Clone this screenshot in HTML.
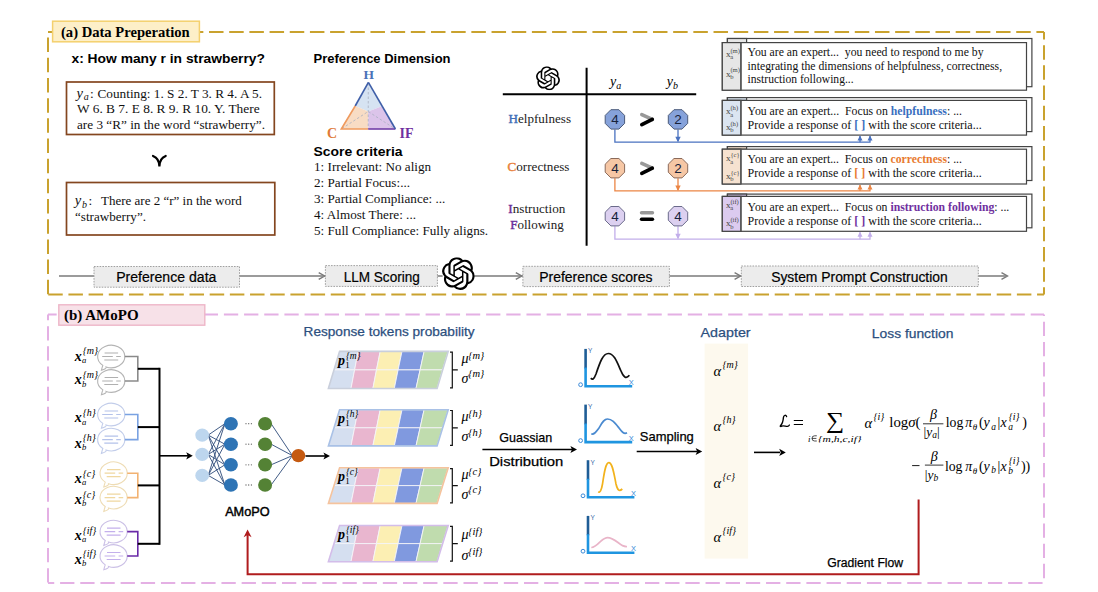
<!DOCTYPE html>
<html><head><meta charset="utf-8">
<style>
html,body{margin:0;padding:0;background:#fff;width:1098px;height:592px;overflow:hidden}
svg{display:block}
.s{font-family:"Liberation Sans",sans-serif}
.t{font-family:"Liberation Serif",serif;white-space:pre}
.m{font-family:"Liberation Serif",serif;font-style:italic}
</style></head><body>
<svg width="1098" height="592" viewBox="0 0 1098 592">
<defs>
<marker id="ag" viewBox="0 0 10 10" refX="9" refY="5" markerWidth="7" markerHeight="7" orient="auto"><path d="M0,1 L9,5 L0,9" fill="none" stroke="#777" stroke-width="1.2"/></marker>
<marker id="ak" viewBox="0 0 10 10" refX="9" refY="5" markerWidth="5" markerHeight="5" orient="auto"><path d="M0,0 L10,5 L0,10 z" fill="#000"/></marker>
<symbol id="oai" viewBox="0 0 24 24"><path d="M22.2819 9.8211a5.9847 5.9847 0 0 0-.5157-4.9108 6.0462 6.0462 0 0 0-6.5098-2.9A6.0651 6.0651 0 0 0 4.9807 4.1818a5.9847 5.9847 0 0 0-3.9977 2.9 6.0462 6.0462 0 0 0 .7427 7.0966 5.98 5.98 0 0 0 .511 4.9107 6.051 6.051 0 0 0 6.5146 2.9001A5.9847 5.9847 0 0 0 13.2599 24a6.0557 6.0557 0 0 0 5.7718-4.2058 5.9894 5.9894 0 0 0 3.9977-2.9001 6.0557 6.0557 0 0 0-.7475-7.0729zm-9.022 12.6081a4.4755 4.4755 0 0 1-2.8764-1.0408l.1419-.0804 4.7783-2.7582a.7948.7948 0 0 0 .3927-.6813v-6.7369l2.02 1.1686a.071.071 0 0 1 .038.052v5.5826a4.504 4.504 0 0 1-4.4945 4.4944zm-9.6607-4.1254a4.4708 4.4708 0 0 1-.5346-3.0137l.142.0852 4.783 2.7582a.7712.7712 0 0 0 .7806 0l5.8428-3.3685v2.3324a.0804.0804 0 0 1-.0332.0615L9.74 19.9502a4.4992 4.4992 0 0 1-6.1408-1.6464zM2.3408 7.8956a4.485 4.485 0 0 1 2.3655-1.9728V11.6a.7664.7664 0 0 0 .3879.6765l5.8144 3.3543-2.0201 1.1685a.0757.0757 0 0 1-.071 0l-4.8303-2.7865A4.504 4.504 0 0 1 2.3408 7.872zm16.5963 3.8558L13.1038 8.364 15.1192 7.2a.0757.0757 0 0 1 .071 0l4.8303 2.7913a4.4944 4.4944 0 0 1-.6765 8.1042v-5.6772a.79.79 0 0 0-.407-.667zm2.0107-3.0231l-.142-.0852-4.7735-2.7818a.7759.7759 0 0 0-.7854 0L9.409 9.2297V6.8974a.0662.0662 0 0 1 .0284-.0615l4.8303-2.7866a4.4992 4.4992 0 0 1 6.6802 4.66zM8.3065 12.863l-2.02-1.1638a.0804.0804 0 0 1-.038-.0567V6.0742a4.4992 4.4992 0 0 1 7.3757-3.4537l-.142.0805L8.704 5.459a.7948.7948 0 0 0-.3927.6813zm1.0976-2.3654l2.602-1.4998 2.6069 1.4998v2.9994l-2.5974 1.4997-2.6067-1.4997Z"/></symbol>
</defs>

<!-- ===== (a) frame ===== -->
<g fill="none" stroke="#c9a22e" stroke-width="2" stroke-dasharray="14.5 5.68">
<path d="M48,32 H1044" stroke-dashoffset="0.42"/>
<path d="M1044,32 V294.6" stroke-dashoffset="7"/>
<path d="M48,294.6 H1044" stroke-dashoffset="19.94"/>
<path d="M48,32 V294.6" stroke-dashoffset="14.59"/>
</g>
<rect x="52.6" y="21.2" width="146.8" height="20.6" fill="#fdefc8" stroke="#f4d06e" stroke-width="1.5"/>
<text x="61" y="37" class="t" font-weight="bold" font-size="14.6">(a) Data Preperation</text>


<!-- left column -->
<text x="71.5" y="63" class="s" font-weight="bold" font-size="13.5" textLength="193.5" lengthAdjust="spacingAndGlyphs">x: How many r in strawberry?</text>
<rect x="66.5" y="82" width="207.8" height="52.5" fill="#fff" stroke="#84461f" stroke-width="1.7"/>
<text class="m" font-size="14.5" x="76.6" y="97.5" fill="#111">y</text><text class="m" font-size="10" x="83.8" y="100.3" fill="#111">a</text><text class="t" font-size="13.4" x="90" y="97.5" fill="#111">:</text>
<text class="t" font-size="13.4" fill="#111" x="97.5" y="97.5" textLength="164.5" lengthAdjust="spacingAndGlyphs">Counting: 1. S 2. T 3. R 4. A 5.</text>
<text class="t" font-size="13.4" fill="#111" x="77" y="113" textLength="182.6" lengthAdjust="spacingAndGlyphs">W 6. B 7. E 8. R 9. R 10. Y. There</text>
<text class="t" font-size="13.4" fill="#111" x="77" y="128.5" textLength="188" lengthAdjust="spacingAndGlyphs">are 3 “R” in the word “strawberry”.</text>
<path d="M153,156 Q159.4,158.5 159.4,166.5 Q159.4,158.5 165.7,156" fill="none" stroke="#000" stroke-width="2.2" stroke-linecap="round" stroke-linejoin="miter"/>
<rect x="66.5" y="182.5" width="208.3" height="52.5" fill="#fff" stroke="#84461f" stroke-width="1.7"/>
<text class="m" font-size="14.5" x="74.8" y="205" fill="#111">y</text><text class="m" font-size="10" x="82" y="207.8" fill="#111">b</text><text class="t" font-size="13.4" x="88.5" y="205" fill="#111">:</text>
<text class="t" font-size="13.4" fill="#111" x="101" y="205" textLength="140.8" lengthAdjust="spacingAndGlyphs">There are 2 “r” in the word</text>
<text class="t" font-size="13.4" fill="#111" x="75" y="221" textLength="71" lengthAdjust="spacingAndGlyphs">“strawberry”.</text>


<!-- middle column -->
<text x="313.5" y="63" class="s" font-weight="bold" font-size="13" textLength="137" lengthAdjust="spacingAndGlyphs">Preference Dimension</text>
<g>
<polygon points="368.4,82.3 355.2,106 368.2,111.5 381.8,106.3" fill="#d6e3f2"/>
<polygon points="355.2,106 341.3,129 368.2,129 368.2,111.5" fill="#f8dcc4"/>
<polygon points="381.8,106.3 395.4,129 368.2,129 368.2,111.5" fill="#dcc4ea"/>
<path d="M368.3,83 L368.2,129 M342,128.5 L368.2,111.5 L394.5,128.5" fill="none" stroke="#aab0c0" stroke-width="0.8" stroke-dasharray="2.5 2"/>
<path d="M368.4,82.3 L355.2,106" stroke="#3f5fa8" stroke-width="1.6" fill="none"/>
<path d="M355.2,106 L341.3,129 L368.2,129" stroke="#ef9a5e" stroke-width="1.6" fill="none"/>
<path d="M368.2,129 L395.4,129" stroke="#7440a8" stroke-width="1.6" fill="none"/>
<path d="M368.4,82.3 L395.4,129" stroke="#3f5fa8" stroke-width="1.6" fill="none"/>
</g>
<text x="368.8" y="79.4" class="t" font-weight="bold" font-size="13.5" fill="#4a72b8" text-anchor="middle">H</text>
<text x="327" y="137.6" class="t" font-weight="bold" font-size="14" fill="#e07b39">C</text>
<text x="399.5" y="137.6" class="t" font-weight="bold" font-size="14" fill="#7030a0">IF</text>
<text x="313.5" y="155.5" class="s" font-weight="bold" font-size="13" textLength="89" lengthAdjust="spacingAndGlyphs">Score criteria</text>
<text class="t" font-size="13.15" fill="#111">
<tspan x="314" y="171.3">1: Irrelevant: No align</tspan>
<tspan x="314" y="187.3">2: Partial Focus:...</tspan>
<tspan x="314" y="203.2">3: Partial Compliance: ...</tspan>
<tspan x="314" y="219.2">4: Almost There: ...</tspan>
<tspan x="314" y="235.2">5: Full Compliance: Fully aligns.</tspan>
</text>


<!-- table -->
<path d="M502.8,94.3 H696.2 M586.6,67.7 V245.8" stroke="#000" stroke-width="2" fill="none"/>
<text x="615.6" y="86" class="m" font-size="14" text-anchor="middle">y<tspan font-size="10" dy="3">a</tspan></text>
<text x="672.4" y="86" class="m" font-size="14" text-anchor="middle">y<tspan font-size="10" dy="3">b</tspan></text>
<text x="508.5" y="122.9" class="t" font-size="13.4" fill="#222" textLength="62.5" lengthAdjust="spacingAndGlyphs"><tspan fill="#3f6fb8" stroke="#3f6fb8" stroke-width="0.45">H</tspan>elpfulness</text>
<text x="507.5" y="170.8" class="t" font-size="13.4" fill="#222" textLength="62" lengthAdjust="spacingAndGlyphs"><tspan fill="#e8803a" stroke="#e8803a" stroke-width="0.45">C</tspan>orrectness</text>
<text x="508.3" y="212.6" class="t" font-size="13.4" fill="#222" textLength="57" lengthAdjust="spacingAndGlyphs"><tspan fill="#6a2e9a" stroke="#6a2e9a" stroke-width="0.45">I</tspan>nstruction</text>
<text x="510.2" y="228.6" class="t" font-size="13.4" fill="#222" textLength="53.5" lengthAdjust="spacingAndGlyphs"><tspan fill="#6a2e9a" stroke="#6a2e9a" stroke-width="0.45">F</tspan>ollowing</text>

<!-- octagons -->
<path d="M614.9,129.4 V142.2 H722" stroke="#4a72c0" stroke-width="1.3" fill="none"/>
<path d="M678,129.4 V141.2" stroke="#4a72c0" stroke-width="1.3" fill="none"/>
<path d="M675.3,136.7 L678,142.2 L680.7,136.7 z" fill="#4a72c0"/>
<polygon points="624.6,123.4 618.9,129.1 610.9,129.1 605.2,123.4 605.2,115.4 610.9,109.7 618.9,109.7 624.6,115.4" fill="#86a2da" stroke="#4a5a7a" stroke-width="1"/>
<text x="614.9" y="124.1" class="s" font-size="13.5" fill="#17223a" text-anchor="middle">4</text>
<polygon points="687.7,123.4 682.0,129.1 674.0,129.1 668.3,123.4 668.3,115.4 674.0,109.7 682.0,109.7 687.7,115.4" fill="#86a2da" stroke="#4a5a7a" stroke-width="1"/>
<text x="678" y="124.1" class="s" font-size="13.5" fill="#17223a" text-anchor="middle">2</text>
<path d="M641.8,114.6 L652.3,119.4" stroke="#999" stroke-width="3.6" stroke-linecap="round"/>
<path d="M652.3,119.4 L641.8,124.6" stroke="#000" stroke-width="3.6" stroke-linecap="round"/>
<path d="M614.9,178.2 V190.9 H722" stroke="#eb8544" stroke-width="1.3" fill="none"/>
<path d="M678,178.2 V189.9" stroke="#eb8544" stroke-width="1.3" fill="none"/>
<path d="M675.3,185.4 L678,190.9 L680.7,185.4 z" fill="#eb8544"/>
<polygon points="624.6,172.2 618.9,177.9 610.9,177.9 605.2,172.2 605.2,164.2 610.9,158.5 618.9,158.5 624.6,164.2" fill="#f6c7a5" stroke="#8a6a5a" stroke-width="1"/>
<text x="614.9" y="172.9" class="s" font-size="13.5" fill="#17223a" text-anchor="middle">4</text>
<polygon points="687.7,172.2 682.0,177.9 674.0,177.9 668.3,172.2 668.3,164.2 674.0,158.5 682.0,158.5 687.7,164.2" fill="#f6c7a5" stroke="#8a6a5a" stroke-width="1"/>
<text x="678" y="172.9" class="s" font-size="13.5" fill="#17223a" text-anchor="middle">2</text>
<path d="M641.8,163.4 L652.3,168.2" stroke="#999" stroke-width="3.6" stroke-linecap="round"/>
<path d="M652.3,168.2 L641.8,173.4" stroke="#000" stroke-width="3.6" stroke-linecap="round"/>
<path d="M614.9,226.2 V239.2 H722" stroke="#c2aeea" stroke-width="1.3" fill="none"/>
<path d="M678,226.2 V238.2" stroke="#c2aeea" stroke-width="1.3" fill="none"/>
<path d="M675.3,233.7 L678,239.2 L680.7,233.7 z" fill="#c2aeea"/>
<polygon points="624.6,220.2 618.9,225.9 610.9,225.9 605.2,220.2 605.2,212.2 610.9,206.5 618.9,206.5 624.6,212.2" fill="#dcd0f0" stroke="#6a6a8a" stroke-width="1"/>
<text x="614.9" y="220.9" class="s" font-size="13.5" fill="#17223a" text-anchor="middle">4</text>
<polygon points="687.7,220.2 682.0,225.9 674.0,225.9 668.3,220.2 668.3,212.2 674.0,206.5 682.0,206.5 687.7,212.2" fill="#dcd0f0" stroke="#6a6a8a" stroke-width="1"/>
<text x="678" y="220.9" class="s" font-size="13.5" fill="#17223a" text-anchor="middle">4</text>
<path d="M641.5,212.8 H652.5" stroke="#999" stroke-width="3.4" stroke-linecap="round"/>
<path d="M641.5,219.3 H652.5" stroke="#000" stroke-width="3.4" stroke-linecap="round"/>


<use href="#oai" x="536" y="66.3" width="24" height="24"/>
<!-- prompt boxes -->
<rect x="727.4" y="38.5" width="304.5" height="48.2" fill="#fff" stroke="#444" stroke-width="1.2"/>
<rect x="727.4" y="38.5" width="19.2" height="4.1" fill="#e6e6e6" stroke="#444" stroke-width="1.2"/>
<rect x="722.3" y="42.6" width="304.2" height="47.6" fill="#fff" stroke="#444" stroke-width="1.2"/>
<rect x="722.3" y="42.6" width="18.6" height="47.6" fill="#e6e6e6" stroke="#444" stroke-width="1.2"/>
<path d="M740.9,42.6 V90.2" stroke="#555" stroke-width="1.4"/>
<text class="t" font-size="12.3" fill="#111" x="747.6" y="55.8" textLength="236" lengthAdjust="spacingAndGlyphs">You are an expert...  you need to respond to me by</text>
<text class="t" font-size="12.3" fill="#111" x="747.6" y="69.7" textLength="254.5" lengthAdjust="spacingAndGlyphs">integrating the dimensions of helpfulness, correctness,</text>
<text class="t" font-size="12.3" fill="#111" x="747.6" y="83.1" textLength="106" lengthAdjust="spacingAndGlyphs">instruction following...</text><text class="t" font-size="9.2" fill="#444" x="726" y="56.8">x</text><text class="t" font-size="6.6" fill="#444" x="730.2" y="59.0">a</text><text class="t" font-size="6.6" fill="#444" x="730.4" y="52.6">(m)</text><text class="t" font-size="9.2" fill="#444" x="726" y="76.5">x</text><text class="t" font-size="6.6" fill="#444" x="730.2" y="78.7">b</text><text class="t" font-size="6.6" fill="#444" x="730.4" y="72.3">(m)</text>
<rect x="727.4" y="97.6" width="304.5" height="34.0" fill="#fff" stroke="#444" stroke-width="1.2"/>
<rect x="727.4" y="97.6" width="19.2" height="2.8" fill="#dbe5f1" stroke="#444" stroke-width="1.2"/>
<rect x="722.3" y="100.4" width="304.2" height="34.7" fill="#fff" stroke="#444" stroke-width="1.2"/>
<rect x="722.3" y="100.4" width="18.6" height="34.7" fill="#dbe5f1" stroke="#444" stroke-width="1.2"/>
<path d="M740.9,100.4 V135.1" stroke="#555" stroke-width="1.4"/>
<text class="t" font-size="12.3" fill="#111" x="747.6" y="114.6" textLength="214.4" lengthAdjust="spacingAndGlyphs">You are an expert...  Focus on <tspan fill="#3a6fc0" font-weight="bold">helpfulness</tspan>: ...</text><text class="t" font-size="12.3" fill="#111" x="747.6" y="128.5" textLength="234.1" lengthAdjust="spacingAndGlyphs">Provide a response of <tspan fill="#3a6fc0" font-weight="bold">[ ]</tspan> with the score criteria...</text><text class="t" font-size="9.2" fill="#444" x="726" y="114.3">x</text><text class="t" font-size="6.6" fill="#444" x="730.2" y="116.5">a</text><text class="t" font-size="6.6" fill="#444" x="730.4" y="110.1">(h)</text><text class="t" font-size="9.2" fill="#444" x="726" y="130.0">x</text><text class="t" font-size="6.6" fill="#444" x="730.2" y="132.2">b</text><text class="t" font-size="6.6" fill="#444" x="730.4" y="125.8">(h)</text>
<rect x="727.4" y="146.6" width="304.5" height="33.9" fill="#fff" stroke="#444" stroke-width="1.2"/>
<rect x="727.4" y="146.6" width="19.2" height="2.6" fill="#f6e2d0" stroke="#444" stroke-width="1.2"/>
<rect x="722.3" y="149.2" width="304.2" height="34.8" fill="#fff" stroke="#444" stroke-width="1.2"/>
<rect x="722.3" y="149.2" width="18.6" height="34.8" fill="#f6e2d0" stroke="#444" stroke-width="1.2"/>
<path d="M740.9,149.2 V184" stroke="#555" stroke-width="1.4"/>
<text class="t" font-size="12.3" fill="#111" x="747.6" y="163.3" textLength="214.4" lengthAdjust="spacingAndGlyphs">You are an expert...  Focus on <tspan fill="#e87a30" font-weight="bold">correctness</tspan>: ...</text><text class="t" font-size="12.3" fill="#111" x="747.6" y="177" textLength="234.1" lengthAdjust="spacingAndGlyphs">Provide a response of <tspan fill="#e87a30" font-weight="bold">[ ]</tspan> with the score criteria...</text><text class="t" font-size="9.2" fill="#444" x="726" y="161.4">x</text><text class="t" font-size="6.6" fill="#444" x="730.2" y="163.6">a</text><text class="t" font-size="6.6" fill="#444" x="730.4" y="157.2">{c}</text><text class="t" font-size="9.2" fill="#444" x="726" y="178.7">x</text><text class="t" font-size="6.6" fill="#444" x="730.2" y="180.9">b</text><text class="t" font-size="6.6" fill="#444" x="730.4" y="174.5">{c}</text>
<rect x="727.4" y="194.1" width="304.5" height="33.7" fill="#fff" stroke="#444" stroke-width="1.2"/>
<rect x="727.4" y="194.1" width="19.2" height="2.3" fill="#dccbef" stroke="#444" stroke-width="1.2"/>
<rect x="722.3" y="196.4" width="304.2" height="34.9" fill="#fff" stroke="#444" stroke-width="1.2"/>
<rect x="722.3" y="196.4" width="18.6" height="34.9" fill="#dccbef" stroke="#444" stroke-width="1.2"/>
<path d="M740.9,196.4 V231.3" stroke="#555" stroke-width="1.4"/>
<text class="t" font-size="12.3" fill="#111" x="747.6" y="211" textLength="261.7" lengthAdjust="spacingAndGlyphs">You are an expert...  Focus on <tspan fill="#7030a0" font-weight="bold">instruction following</tspan>: ...</text><text class="t" font-size="12.3" fill="#111" x="747.6" y="225" textLength="234.1" lengthAdjust="spacingAndGlyphs">Provide a response of <tspan fill="#7030a0" font-weight="bold">[ ]</tspan> with the score criteria...</text><text class="t" font-size="9.2" fill="#444" x="726" y="207.9">x</text><text class="t" font-size="6.6" fill="#444" x="730.2" y="210.1">a</text><text class="t" font-size="6.6" fill="#444" x="730.4" y="203.7">(if)</text><text class="t" font-size="9.2" fill="#444" x="726" y="226.3">x</text><text class="t" font-size="6.6" fill="#444" x="730.2" y="228.5">b</text><text class="t" font-size="6.6" fill="#444" x="730.4" y="222.1">(if)</text>
<path d="M722,142.2 H870 V136.1" stroke="#4a72c0" stroke-width="1.3" fill="none"/>
<path d="M860,142.2 V136.1" stroke="#4a72c0" stroke-width="1.3" fill="none"/>
<path d="M857.5,140.6 L860,135.6 L862.5,140.6 z M867.5,140.6 L870,135.6 L872.5,140.6 z" fill="#4a72c0"/>
<path d="M722,190.9 H870 V185" stroke="#eb8544" stroke-width="1.3" fill="none"/>
<path d="M860,190.9 V185" stroke="#eb8544" stroke-width="1.3" fill="none"/>
<path d="M857.5,189.5 L860,184.5 L862.5,189.5 z M867.5,189.5 L870,184.5 L872.5,189.5 z" fill="#eb8544"/>
<path d="M722,239.2 H870 V232.3" stroke="#c2aeea" stroke-width="1.3" fill="none"/>
<path d="M860,239.2 V232.3" stroke="#c2aeea" stroke-width="1.3" fill="none"/>
<path d="M857.5,236.8 L860,231.8 L862.5,236.8 z M867.5,236.8 L870,231.8 L872.5,236.8 z" fill="#c2aeea"/>


<!-- flow line -->
<path d="M59,276 H1007" stroke="#7a7a7a" stroke-width="1.4" fill="none"/>
<path d="M318.7,272.6 L324.7,276 L318.7,279.4 M515.8,272.6 L521.8,276 L515.8,279.4 M734.6,272.6 L740.6,276 L734.6,279.4 M1001.5,272.6 L1007.5,276 L1001.5,279.4" stroke="#7a7a7a" stroke-width="1.4" fill="none"/>
<rect x="94" y="266.5" width="145.5" height="20.7" fill="#ececec" stroke="#a0a0a0" stroke-width="1" stroke-dasharray="1.6 1.2"/>
<rect x="325.4" y="265.6" width="112" height="20.8" fill="#ececec" stroke="#a0a0a0" stroke-width="1" stroke-dasharray="1.6 1.2"/>
<rect x="522.9" y="266.3" width="146.5" height="20.3" fill="#ececec" stroke="#a0a0a0" stroke-width="1" stroke-dasharray="1.6 1.2"/>
<rect x="741.3" y="266" width="237" height="20.5" fill="#ececec" stroke="#a0a0a0" stroke-width="1" stroke-dasharray="1.6 1.2"/>
<circle cx="458.4" cy="273.6" r="16" fill="#fff"/>
<use href="#oai" x="442" y="257.2" width="32.8" height="32.8"/>
<text x="116.2" y="282" class="s" font-size="14" stroke="#000" stroke-width="0.2" textLength="100.2" lengthAdjust="spacingAndGlyphs">Preference data</text>
<text x="343.7" y="282" class="s" font-size="14" stroke="#000" stroke-width="0.2" textLength="76.1" lengthAdjust="spacingAndGlyphs">LLM Scoring</text>
<text x="539.2" y="282" class="s" font-size="14" stroke="#000" stroke-width="0.2" textLength="113.3" lengthAdjust="spacingAndGlyphs">Preference scores</text>
<text x="771.2" y="282" class="s" font-size="14" stroke="#000" stroke-width="0.2" textLength="176.5" lengthAdjust="spacingAndGlyphs">System Prompt Construction</text>

<!-- ===== (b) frame ===== -->
<g fill="none" stroke="#e4b0e4" stroke-width="2" stroke-dasharray="14.3 5.87">
<path d="M48,314.6 H1044" stroke-dashoffset="5.63"/>
<path d="M1044,314.6 V582.9" stroke-dashoffset="12.97"/>
<path d="M48,582.9 H1044" stroke-dashoffset="8.07"/>
<path d="M48,314.6 V582.9" stroke-dashoffset="8.64"/>
</g>
<rect x="58.8" y="304.8" width="146" height="20.4" fill="#f7e1e8" stroke="#eeb6c8" stroke-width="1.4"/>
<text x="64" y="320" class="t" font-weight="bold" font-size="15">(b) AMoPO</text>

<!-- B-START -->
<path d="M106.11,366.98 A13.6,11.3 0 1 0 102.83,365.40 Q102.20,367.00 101.40,370.30 Q106.70,369.00 106.11,366.98 Z" fill="#fff" stroke="#b4b4b4" stroke-width="1.1"/>
<path d="M104.6,353.0 H118.1 M102.2,356.5 H112.8 M116.2,356.5 H120.8 M104.3,360.0 H118.2" stroke="#b0b0b0" stroke-width="1.2" fill="none"/>
<path d="M106.11,391.48 A13.6,11.3 0 1 0 102.83,389.90 Q102.20,391.50 101.40,394.80 Q106.70,393.50 106.11,391.48 Z" fill="#fff" stroke="#b4b4b4" stroke-width="1.1"/>
<path d="M104.6,377.5 H118.1 M102.2,381.0 H112.8 M116.2,381.0 H120.8 M104.3,384.5 H118.2" stroke="#b0b0b0" stroke-width="1.2" fill="none"/>
<path d="M124.8,356.5 H137.8 V381.0 H124.8" stroke="#8a8a8a" stroke-width="1.6" fill="none"/>
<path d="M137.8,368.8 H159.5" stroke="#000" stroke-width="2" fill="none"/>
<text class="m" font-size="14" font-weight="bold" x="74.8" y="360.7">x</text>
<text class="m" font-size="8.6" x="82" y="362.9">a</text>
<text class="m" font-size="10" x="82.8" y="354.4">{m}</text>
<text class="m" font-size="14" font-weight="bold" x="74.8" y="384.4">x</text>
<text class="m" font-size="8.6" x="82" y="386.6">b</text>
<text class="m" font-size="10" x="82.8" y="378.1">{m}</text>
<path d="M106.11,424.98 A13.6,11.3 0 1 0 102.83,423.40 Q102.20,425.00 101.40,428.30 Q106.70,427.00 106.11,424.98 Z" fill="#fff" stroke="#c2cdea" stroke-width="1.1"/>
<path d="M104.6,411.0 H118.1 M102.2,414.5 H112.8 M116.2,414.5 H120.8 M104.3,418.0 H118.2" stroke="#b4c2ea" stroke-width="1.2" fill="none"/>
<path d="M106.11,450.08 A13.6,11.3 0 1 0 102.83,448.50 Q102.20,450.10 101.40,453.40 Q106.70,452.10 106.11,450.08 Z" fill="#fff" stroke="#c2cdea" stroke-width="1.1"/>
<path d="M104.6,436.1 H118.1 M102.2,439.6 H112.8 M116.2,439.6 H120.8 M104.3,443.1 H118.2" stroke="#b4c2ea" stroke-width="1.2" fill="none"/>
<path d="M124.8,414.5 H137.8 V439.6 H124.8" stroke="#7aa2e2" stroke-width="1.6" fill="none"/>
<path d="M137.8,427.1 H159.5" stroke="#000" stroke-width="2" fill="none"/>
<text class="m" font-size="14" font-weight="bold" x="74.8" y="422.3">x</text>
<text class="m" font-size="8.6" x="82" y="424.5">a</text>
<text class="m" font-size="10" x="82.8" y="416.0">{h}</text>
<text class="m" font-size="14" font-weight="bold" x="74.8" y="447.6">x</text>
<text class="m" font-size="8.6" x="82" y="449.8">b</text>
<text class="m" font-size="10" x="82.8" y="441.3">{h}</text>
<path d="M108.51,483.68 A13.6,11.3 0 1 0 105.23,482.10 Q104.60,483.70 103.80,487.00 Q109.10,485.70 108.51,483.68 Z" fill="#fff" stroke="#eedcb4" stroke-width="1.1"/>
<path d="M107.0,469.7 H120.5 M104.6,473.2 H115.2 M118.6,473.2 H123.2 M106.7,476.7 H120.6" stroke="#f0d8a0" stroke-width="1.2" fill="none"/>
<path d="M108.51,508.08 A13.6,11.3 0 1 0 105.23,506.50 Q104.60,508.10 103.80,511.40 Q109.10,510.10 108.51,508.08 Z" fill="#fff" stroke="#eedcb4" stroke-width="1.1"/>
<path d="M107.0,494.1 H120.5 M104.6,497.6 H115.2 M118.6,497.6 H123.2 M106.7,501.1 H120.6" stroke="#f0d8a0" stroke-width="1.2" fill="none"/>
<path d="M127.2,473.2 H137.8 V497.6 H127.2" stroke="#f2b272" stroke-width="1.6" fill="none"/>
<path d="M137.8,485.4 H159.5" stroke="#000" stroke-width="2" fill="none"/>
<text class="m" font-size="14" font-weight="bold" x="74.8" y="483.2">x</text>
<text class="m" font-size="8.6" x="82" y="485.4">a</text>
<text class="m" font-size="10" x="82.8" y="476.9">{c}</text>
<text class="m" font-size="14" font-weight="bold" x="74.8" y="504.0">x</text>
<text class="m" font-size="8.6" x="82" y="506.2">b</text>
<text class="m" font-size="10" x="82.8" y="497.7">{c}</text>
<path d="M108.51,542.08 A13.6,11.3 0 1 0 105.23,540.50 Q104.60,542.10 103.80,545.40 Q109.10,544.10 108.51,542.08 Z" fill="#fff" stroke="#cbc0e6" stroke-width="1.1"/>
<path d="M107.0,528.1 H120.5 M104.6,531.6 H115.2 M118.6,531.6 H123.2 M106.7,535.1 H120.6" stroke="#c4b0ec" stroke-width="1.2" fill="none"/>
<path d="M108.51,566.48 A13.6,11.3 0 1 0 105.23,564.90 Q104.60,566.50 103.80,569.80 Q109.10,568.50 108.51,566.48 Z" fill="#fff" stroke="#cbc0e6" stroke-width="1.1"/>
<path d="M107.0,552.5 H120.5 M104.6,556.0 H115.2 M118.6,556.0 H123.2 M106.7,559.5 H120.6" stroke="#c4b0ec" stroke-width="1.2" fill="none"/>
<path d="M127.2,531.6 H137.8 V556.0 H127.2" stroke="#6a2aa8" stroke-width="1.6" fill="none"/>
<path d="M137.8,543.8 H159.5" stroke="#000" stroke-width="2" fill="none"/>
<text class="m" font-size="14" font-weight="bold" x="74.8" y="540.1">x</text>
<text class="m" font-size="8.6" x="82" y="542.3">a</text>
<text class="m" font-size="10" x="82.8" y="533.8">{if}</text>
<text class="m" font-size="14" font-weight="bold" x="74.8" y="563.5">x</text>
<text class="m" font-size="8.6" x="82" y="565.7">b</text>
<text class="m" font-size="10" x="82.8" y="557.2">{if}</text>
<path d="M159.5,367.8 V544.8" stroke="#000" stroke-width="2" fill="none"/>
<path d="M159.5,455.8 H188" stroke="#000" stroke-width="1.6" fill="none"/><path d="M186.2,452.2 L192.8,455.8 L186.2,459.4 L187.8,455.8 z" fill="#000"/>
<path d="M208.2,435.1 L224.9,423.7" stroke="#2d4a78" stroke-width="0.9"/>
<path d="M208.2,435.1 L224.9,444.2" stroke="#2d4a78" stroke-width="0.9"/>
<path d="M208.2,435.1 L224.9,464.8" stroke="#2d4a78" stroke-width="0.9"/>
<path d="M208.2,435.1 L224.9,485.0" stroke="#2d4a78" stroke-width="0.9"/>
<path d="M208.2,454.4 L224.9,423.7" stroke="#2d4a78" stroke-width="0.9"/>
<path d="M208.2,454.4 L224.9,444.2" stroke="#2d4a78" stroke-width="0.9"/>
<path d="M208.2,454.4 L224.9,464.8" stroke="#2d4a78" stroke-width="0.9"/>
<path d="M208.2,454.4 L224.9,485.0" stroke="#2d4a78" stroke-width="0.9"/>
<path d="M208.2,475.4 L224.9,423.7" stroke="#2d4a78" stroke-width="0.9"/>
<path d="M208.2,475.4 L224.9,444.2" stroke="#2d4a78" stroke-width="0.9"/>
<path d="M208.2,475.4 L224.9,464.8" stroke="#2d4a78" stroke-width="0.9"/>
<path d="M208.2,475.4 L224.9,485.0" stroke="#2d4a78" stroke-width="0.9"/>
<path d="M271.1,423.7 L292.4,455.6" stroke="#2d4a78" stroke-width="0.9"/>
<path d="M271.1,444.2 L292.4,455.6" stroke="#2d4a78" stroke-width="0.9"/>
<path d="M271.1,464.8 L292.4,455.6" stroke="#2d4a78" stroke-width="0.9"/>
<path d="M271.1,485.0 L292.4,455.6" stroke="#2d4a78" stroke-width="0.9"/>
<ellipse cx="202.2" cy="435.1" rx="6.9" ry="6.6" fill="#bdd6ee"/>
<ellipse cx="202.2" cy="454.4" rx="6.9" ry="6.6" fill="#bdd6ee"/>
<ellipse cx="202.2" cy="475.4" rx="6.9" ry="6.6" fill="#bdd6ee"/>
<ellipse cx="230.9" cy="423.7" rx="7" ry="6.8" fill="#2e74b5"/>
<ellipse cx="230.9" cy="444.2" rx="7" ry="6.8" fill="#2e74b5"/>
<ellipse cx="230.9" cy="464.8" rx="7" ry="6.8" fill="#2e74b5"/>
<ellipse cx="230.9" cy="485.0" rx="7" ry="6.8" fill="#2e74b5"/>
<ellipse cx="265.1" cy="423.7" rx="7" ry="6.8" fill="#548235"/>
<ellipse cx="265.1" cy="444.2" rx="7" ry="6.8" fill="#548235"/>
<ellipse cx="265.1" cy="464.8" rx="7" ry="6.8" fill="#548235"/>
<ellipse cx="265.1" cy="485.0" rx="7" ry="6.8" fill="#548235"/>
<ellipse cx="298.4" cy="455.6" rx="6.9" ry="6.6" fill="#c55a11"/>
<circle cx="246" cy="423.7" r="0.65" fill="#666"/><circle cx="248.7" cy="423.7" r="0.65" fill="#666"/><circle cx="251.4" cy="423.7" r="0.65" fill="#666"/>
<circle cx="246" cy="444.2" r="0.65" fill="#666"/><circle cx="248.7" cy="444.2" r="0.65" fill="#666"/><circle cx="251.4" cy="444.2" r="0.65" fill="#666"/>
<circle cx="246" cy="464.8" r="0.65" fill="#666"/><circle cx="248.7" cy="464.8" r="0.65" fill="#666"/><circle cx="251.4" cy="464.8" r="0.65" fill="#666"/>
<circle cx="246" cy="485.0" r="0.65" fill="#666"/><circle cx="248.7" cy="485.0" r="0.65" fill="#666"/><circle cx="251.4" cy="485.0" r="0.65" fill="#666"/>
<path d="M305.5,456 H325" stroke="#000" stroke-width="1.6"/><path d="M323.4,452.4 L330,456 L323.4,459.6 L325,456 z" fill="#000"/>
<text x="247.4" y="515.8" class="s" font-size="13" stroke="#000" stroke-width="0.45" text-anchor="middle" textLength="44.5" lengthAdjust="spacingAndGlyphs">AMoPO</text>
<text x="303.6" y="336" class="s" font-size="13" fill="#2c4f7e" stroke="#2c4f7e" stroke-width="0.25" textLength="171" lengthAdjust="spacingAndGlyphs">Response tokens probability</text>
<polygon points="339.6,351.4 358.2,351.4 354.6,369.9 334.0,369.9" fill="#d5dff0" stroke="#f4f4f8" stroke-width="0.9"/>
<polygon points="358.2,351.4 380.2,351.4 376.5,369.9 354.6,369.9" fill="#e9b6cf" stroke="#f4f4f8" stroke-width="0.9"/>
<polygon points="380.2,351.4 402.0,351.4 398.1,369.9 376.5,369.9" fill="#fcefb3" stroke="#f4f4f8" stroke-width="0.9"/>
<polygon points="402.0,351.4 424.1,351.4 420.1,369.9 398.1,369.9" fill="#8099df" stroke="#f4f4f8" stroke-width="0.9"/>
<polygon points="424.1,351.4 448.2,351.4 442.6,369.9 420.1,369.9" fill="#c0dcae" stroke="#f4f4f8" stroke-width="0.9"/>
<polygon points="334.0,369.9 354.6,369.9 351.0,388.5 328.4,388.5" fill="#d5dff0" stroke="#f4f4f8" stroke-width="0.9"/>
<polygon points="354.6,369.9 376.5,369.9 372.9,388.5 351.0,388.5" fill="#e9b6cf" stroke="#f4f4f8" stroke-width="0.9"/>
<polygon points="376.5,369.9 398.1,369.9 394.3,388.5 372.9,388.5" fill="#fcefb3" stroke="#f4f4f8" stroke-width="0.9"/>
<polygon points="398.1,369.9 420.1,369.9 416.0,388.5 394.3,388.5" fill="#8099df" stroke="#f4f4f8" stroke-width="0.9"/>
<polygon points="420.1,369.9 442.6,369.9 437.1,388.5 416.0,388.5" fill="#c0dcae" stroke="#f4f4f8" stroke-width="0.9"/>
<polygon points="339.6,351.4 448.2,351.4 437.1,388.5 328.4,388.5" fill="none" stroke="#c9cfdc" stroke-width="1.6"/>
<path d="M450,352.2 H452.3 V387.9 H450 M452.3,369.9 H457.8" stroke="#111" stroke-width="1.2" fill="none"/>
<text class="m" font-size="14" x="461.5" y="363.1">μ</text><text class="m" font-size="10.5" x="468.3" y="359.1">{m}</text>
<text class="m" font-size="14" x="461.5" y="382.6">σ</text><text class="m" font-size="10.5" x="468.3" y="377.2">{m}</text>
<text class="m" font-size="14" font-weight="bold" x="338" y="364.9">p</text><text class="t" font-size="9" x="345.2" y="367.7">1</text><text class="m" font-size="9.5" x="346" y="358.9">{m}</text>
<polygon points="339.6,409.7 358.2,409.7 354.6,427.8 334.0,427.8" fill="#d5dff0" stroke="#f4f4f8" stroke-width="0.9"/>
<polygon points="358.2,409.7 380.2,409.7 376.6,427.8 354.6,427.8" fill="#e9b6cf" stroke="#f4f4f8" stroke-width="0.9"/>
<polygon points="380.2,409.7 402.0,409.7 398.2,427.8 376.6,427.8" fill="#fcefb3" stroke="#f4f4f8" stroke-width="0.9"/>
<polygon points="402.0,409.7 424.1,409.7 420.1,427.8 398.2,427.8" fill="#8099df" stroke="#f4f4f8" stroke-width="0.9"/>
<polygon points="424.1,409.7 448.2,409.7 442.7,427.8 420.1,427.8" fill="#c0dcae" stroke="#f4f4f8" stroke-width="0.9"/>
<polygon points="334.0,427.8 354.6,427.8 351.0,445.9 328.4,445.9" fill="#d5dff0" stroke="#f4f4f8" stroke-width="0.9"/>
<polygon points="354.6,427.8 376.6,427.8 372.9,445.9 351.0,445.9" fill="#e9b6cf" stroke="#f4f4f8" stroke-width="0.9"/>
<polygon points="376.6,427.8 398.2,427.8 394.3,445.9 372.9,445.9" fill="#fcefb3" stroke="#f4f4f8" stroke-width="0.9"/>
<polygon points="398.2,427.8 420.1,427.8 416.0,445.9 394.3,445.9" fill="#8099df" stroke="#f4f4f8" stroke-width="0.9"/>
<polygon points="420.1,427.8 442.7,427.8 437.1,445.9 416.0,445.9" fill="#c0dcae" stroke="#f4f4f8" stroke-width="0.9"/>
<polygon points="339.6,409.7 448.2,409.7 437.1,445.9 328.4,445.9" fill="none" stroke="#a9c1e6" stroke-width="1.6"/>
<path d="M450,410.5 H452.3 V445.3 H450 M452.3,427.8 H457.8" stroke="#111" stroke-width="1.2" fill="none"/>
<text class="m" font-size="14" x="461.5" y="421.0">μ</text><text class="m" font-size="10.5" x="468.3" y="417.0">{h}</text>
<text class="m" font-size="14" x="461.5" y="440.9">σ</text><text class="m" font-size="10.5" x="468.3" y="435.5">{h}</text>
<text class="m" font-size="14" font-weight="bold" x="338" y="423.2">p</text><text class="t" font-size="9" x="345.2" y="426.0">1</text><text class="m" font-size="9.5" x="346" y="417.2">{h}</text>
<polygon points="339.6,467.8 358.2,467.8 354.6,485.6 334.0,485.6" fill="#d5dff0" stroke="#f4f4f8" stroke-width="0.9"/>
<polygon points="358.2,467.8 380.2,467.8 376.5,485.6 354.6,485.6" fill="#e9b6cf" stroke="#f4f4f8" stroke-width="0.9"/>
<polygon points="380.2,467.8 402.0,467.8 398.1,485.6 376.5,485.6" fill="#fcefb3" stroke="#f4f4f8" stroke-width="0.9"/>
<polygon points="402.0,467.8 424.1,467.8 420.1,485.6 398.1,485.6" fill="#8099df" stroke="#f4f4f8" stroke-width="0.9"/>
<polygon points="424.1,467.8 448.2,467.8 442.6,485.6 420.1,485.6" fill="#c0dcae" stroke="#f4f4f8" stroke-width="0.9"/>
<polygon points="334.0,485.6 354.6,485.6 351.0,503.4 328.4,503.4" fill="#d5dff0" stroke="#f4f4f8" stroke-width="0.9"/>
<polygon points="354.6,485.6 376.5,485.6 372.9,503.4 351.0,503.4" fill="#e9b6cf" stroke="#f4f4f8" stroke-width="0.9"/>
<polygon points="376.5,485.6 398.1,485.6 394.3,503.4 372.9,503.4" fill="#fcefb3" stroke="#f4f4f8" stroke-width="0.9"/>
<polygon points="398.1,485.6 420.1,485.6 416.0,503.4 394.3,503.4" fill="#8099df" stroke="#f4f4f8" stroke-width="0.9"/>
<polygon points="420.1,485.6 442.6,485.6 437.1,503.4 416.0,503.4" fill="#c0dcae" stroke="#f4f4f8" stroke-width="0.9"/>
<polygon points="339.6,467.8 448.2,467.8 437.1,503.4 328.4,503.4" fill="none" stroke="#f5c39d" stroke-width="1.6"/>
<path d="M450,468.6 H452.3 V502.8 H450 M452.3,485.6 H457.8" stroke="#111" stroke-width="1.2" fill="none"/>
<text class="m" font-size="14" x="461.5" y="479.4">μ</text><text class="m" font-size="10.5" x="468.3" y="475.4">{c}</text>
<text class="m" font-size="14" x="461.5" y="498.6">σ</text><text class="m" font-size="10.5" x="468.3" y="493.2">{c}</text>
<text class="m" font-size="14" font-weight="bold" x="338" y="481.3">p</text><text class="t" font-size="9" x="345.2" y="484.1">1</text><text class="m" font-size="9.5" x="346" y="475.3">{c}</text>
<polygon points="339.6,525.5 358.2,525.5 354.6,543.6 334.0,543.6" fill="#d5dff0" stroke="#f4f4f8" stroke-width="0.9"/>
<polygon points="358.2,525.5 380.2,525.5 376.5,543.6 354.6,543.6" fill="#e9b6cf" stroke="#f4f4f8" stroke-width="0.9"/>
<polygon points="380.2,525.5 402.0,525.5 398.1,543.6 376.5,543.6" fill="#fcefb3" stroke="#f4f4f8" stroke-width="0.9"/>
<polygon points="402.0,525.5 424.1,525.5 420.1,543.6 398.1,543.6" fill="#8099df" stroke="#f4f4f8" stroke-width="0.9"/>
<polygon points="424.1,525.5 448.2,525.5 442.6,543.6 420.1,543.6" fill="#c0dcae" stroke="#f4f4f8" stroke-width="0.9"/>
<polygon points="334.0,543.6 354.6,543.6 351.0,561.7 328.4,561.7" fill="#d5dff0" stroke="#f4f4f8" stroke-width="0.9"/>
<polygon points="354.6,543.6 376.5,543.6 372.9,561.7 351.0,561.7" fill="#e9b6cf" stroke="#f4f4f8" stroke-width="0.9"/>
<polygon points="376.5,543.6 398.1,543.6 394.3,561.7 372.9,561.7" fill="#fcefb3" stroke="#f4f4f8" stroke-width="0.9"/>
<polygon points="398.1,543.6 420.1,543.6 416.0,561.7 394.3,561.7" fill="#8099df" stroke="#f4f4f8" stroke-width="0.9"/>
<polygon points="420.1,543.6 442.6,543.6 437.1,561.7 416.0,561.7" fill="#c0dcae" stroke="#f4f4f8" stroke-width="0.9"/>
<polygon points="339.6,525.5 448.2,525.5 437.1,561.7 328.4,561.7" fill="none" stroke="#d3bde9" stroke-width="1.6"/>
<path d="M450,526.3 H452.3 V561.1 H450 M452.3,543.6 H457.8" stroke="#111" stroke-width="1.2" fill="none"/>
<text class="m" font-size="14" x="461.5" y="539.0">μ</text><text class="m" font-size="10.5" x="468.3" y="535.0">{if}</text>
<text class="m" font-size="14" x="461.5" y="559.9">σ</text><text class="m" font-size="10.5" x="468.3" y="554.5">{if}</text>
<text class="m" font-size="14" font-weight="bold" x="338" y="539.0">p</text><text class="t" font-size="9" x="345.2" y="541.8">1</text><text class="m" font-size="9.5" x="346" y="533.0">{if}</text>
<text x="525.8" y="442.4" class="s" font-size="13" stroke="#000" stroke-width="0.25" text-anchor="middle" textLength="53" lengthAdjust="spacingAndGlyphs">Guassian</text>
<text x="526.2" y="466" class="s" font-size="13" stroke="#000" stroke-width="0.25" text-anchor="middle" textLength="74" lengthAdjust="spacingAndGlyphs">Distribution</text>
<path d="M482.4,449.5 H572" stroke="#000" stroke-width="1.6"/><path d="M570.4,445.9 L577,449.5 L570.4,453.1 L572,449.5 z" fill="#000"/>
<path d="M590.8,378.1 C592.5,380 594,379.2 596,374 C600,362 603,353.5 608.4,353.5 C614,353.5 617,362 621,371 C623.5,377 626,379.5 629.4,375.3" stroke="#111" stroke-width="1.7" fill="none"/>
<path d="M585.6,348.9 V368.5" stroke="#1f5d96" stroke-width="2.6"/>
<path d="M585.6,367.5 V386.2 H632.2" stroke="#1f95e0" stroke-width="2.6" fill="none"/>
<text x="588.1" y="353.4" class="s" font-size="6.5" fill="#3b6aa8">Y</text>
<circle cx="580.6" cy="384.7" r="1.9" fill="none" stroke="#3b8ad8" stroke-width="1"/>
<text x="628.7" y="384.7" class="s" font-size="7.5" fill="#3b8ad8">X</text>
<path d="M591.3,433.8 C594,435 596,432 599,428 C602,423 604,419 607.5,419 C612,419 615,423 619,428 C622,432 624,434.5 627,432.8" stroke="#4a8ad0" stroke-width="1.7" fill="none"/>
<path d="M585.6,404.6 V424.4" stroke="#1f5d96" stroke-width="2.6"/>
<path d="M585.6,423.4 V442.1 H632.2" stroke="#1f95e0" stroke-width="2.6" fill="none"/>
<text x="588.1" y="409.1" class="s" font-size="6.5" fill="#3b6aa8">Y</text>
<circle cx="580.6" cy="440.6" r="1.9" fill="none" stroke="#3b8ad8" stroke-width="1"/>
<text x="628.7" y="440.6" class="s" font-size="7.5" fill="#3b8ad8">X</text>
<path d="M598.2,491.8 C600,493 601.5,490 602.5,484 C604,474 605.5,462.6 608.8,462.6 C612.5,462.6 614,474 616,484 C617.5,490 619,492 622.3,489" stroke="#f2b21c" stroke-width="1.7" fill="none"/>
<path d="M588,460.2 V479.8" stroke="#1f5d96" stroke-width="2.6"/>
<path d="M588,478.8 V497.3 H634.4" stroke="#1f95e0" stroke-width="2.6" fill="none"/>
<text x="590.5" y="464.7" class="s" font-size="6.5" fill="#3b6aa8">Y</text>
<circle cx="583" cy="495.8" r="1.9" fill="none" stroke="#3b8ad8" stroke-width="1"/>
<text x="630.9" y="495.8" class="s" font-size="7.5" fill="#3b8ad8">X</text>
<path d="M591.3,547.5 C595,547.5 598,544 601,541 C604,538.5 606,537.6 607.5,537.6 C611,537.6 614,539.5 618,542.5 C621,545 623.5,547 627,546.5" stroke="#e9b4c8" stroke-width="1.7" fill="none"/>
<path d="M588,515.9 V535.3" stroke="#1f5d96" stroke-width="2.6"/>
<path d="M588,534.3 V552.7 H634.4" stroke="#1f95e0" stroke-width="2.6" fill="none"/>
<text x="590.5" y="520.4" class="s" font-size="6.5" fill="#3b6aa8">Y</text>
<circle cx="583" cy="551.2" r="1.9" fill="none" stroke="#3b8ad8" stroke-width="1"/>
<text x="630.9" y="551.2" class="s" font-size="7.5" fill="#3b8ad8">X</text>
<text x="666.8" y="440.6" class="s" font-size="13" stroke="#000" stroke-width="0.25" text-anchor="middle" textLength="54" lengthAdjust="spacingAndGlyphs">Sampling</text>
<path d="M636.7,451.5 H697" stroke="#000" stroke-width="1.6"/><path d="M695.6,447.9 L702.2,451.5 L695.6,455.1 L697.2,451.5 z" fill="#000"/>
<rect x="704.6" y="343.6" width="43.5" height="215" fill="#fdf9ee"/>
<text x="725.6" y="336.5" class="s" font-size="13" fill="#2c4f7e" stroke="#2c4f7e" stroke-width="0.25" text-anchor="middle" textLength="50" lengthAdjust="spacingAndGlyphs">Adapter</text>
<text class="m" font-size="14.5" x="713.4" y="375.7">α</text><text class="m" font-size="10" x="722.5" y="367.7">{m}</text>
<text class="m" font-size="14.5" x="713.4" y="431.4">α</text><text class="m" font-size="10" x="722.5" y="423.4">{h}</text>
<text class="m" font-size="14.5" x="713.4" y="487.6">α</text><text class="m" font-size="10" x="722.5" y="479.6">{c}</text>
<text class="m" font-size="14.5" x="713.4" y="542.4">α</text><text class="m" font-size="10" x="722.5" y="534.4">{if}</text>
<path d="M754,452.4 H780" stroke="#000" stroke-width="1.6"/><path d="M779.2,448.8 L785.8,452.4 L779.2,456 L780.8,452.4 z" fill="#000"/>
<text x="912.6" y="337.6" class="s" font-size="13" fill="#2c4f7e" stroke="#2c4f7e" stroke-width="0.25" text-anchor="middle" textLength="81.5" lengthAdjust="spacingAndGlyphs">Loss function</text>
<path d="M918.6,499.5 V574.3 H247.6 V534" stroke="#b01c1e" stroke-width="2" fill="none"/><path d="M243.6,537.2 L247.6,529.4 L251.6,537.2 L247.6,535 z" fill="#b01c1e"/>
<text x="865.2" y="567.3" class="s" font-size="12.5" stroke="#000" stroke-width="0.25" text-anchor="middle" textLength="76" lengthAdjust="spacingAndGlyphs">Gradient Flow</text>
<path d="M786.6,416.6 C786.2,414.6 783.6,414.8 783.4,417.6 C783.2,420.6 782.6,423.6 780.4,425.8 C780,426.4 780.8,426.8 781.6,426.2 C783.6,425 785.6,426.6 787.4,426.4 C788.4,426.3 789,425.8 789.4,425" fill="none" stroke="#000" stroke-width="1.35" stroke-linecap="round"/>
<path d="M793.8,420.5 H803 M793.8,424.5 H803" stroke="#000" stroke-width="1"/>
<text class="t" font-size="22.5" x="826" y="427.6" textLength="18.2" lengthAdjust="spacingAndGlyphs">∑</text>
<text class="m" font-size="9" x="808" y="441.7">i</text>
<path d="M816.8,435.8 H814.6 A2.6,2.6 0 0 0 814.6,441 H816.8 M812,438.4 H816.4" stroke="#000" stroke-width="0.7" fill="none"/>
<text class="m" font-size="9" x="818" y="441.7" textLength="43.5" lengthAdjust="spacingAndGlyphs">{m,h,c,if}</text>
<text class="m" font-size="14.5" x="864.5" y="427.5">α</text><text class="m" font-size="10" x="873.5" y="420">{i}</text>
<text class="t" font-size="14" x="889.3" y="427" textLength="31.2" lengthAdjust="spacingAndGlyphs">log<tspan class="m">σ</tspan>(</text>
<text class="m" font-size="14" x="933.4" y="419.4" text-anchor="middle">β</text>
<path d="M923,423.8 H943.4" stroke="#000" stroke-width="0.8"/>
<text class="t" font-size="13.5" x="923.5" y="435.6">|<tspan class="m">y</tspan><tspan class="m" font-size="9.5" dy="2">a</tspan><tspan dy="-2">|</tspan></text>
<text class="t" font-size="14" x="945.8" y="427.2" textLength="17.6" lengthAdjust="spacingAndGlyphs">log</text>
<text class="m" font-size="14" x="965.3" y="427.2">π</text><text class="m" font-size="9" x="972.8" y="429.7">θ</text>
<text class="t" font-size="14" x="978.9" y="427.2">(</text>
<text class="m" font-size="14" x="983.4" y="427.2">y</text><text class="m" font-size="9.5" x="991.2" y="429.5">a</text>
<text class="t" font-size="14" x="997.6" y="427.2">|</text>
<text class="m" font-size="14" x="1000.6" y="427.2">x</text><text class="m" font-size="9.5" x="1008.2" y="430.2">a</text><text class="m" font-size="10" x="1008.8" y="419.7">{i}</text>
<text class="t" font-size="14" x="1022.3" y="427.2">)</text>
<path d="M912.1,465.6 H919.5" stroke="#000" stroke-width="0.9"/>
<text class="m" font-size="14" x="934.3" y="461.4" text-anchor="middle">β</text>
<path d="M924.9,465.1 H943.4" stroke="#000" stroke-width="0.8"/>
<text class="t" font-size="13.5" x="924.7" y="478.6">|<tspan class="m">y</tspan><tspan class="m" font-size="9.5" dy="2">b</tspan></text>
<text class="t" font-size="14" x="944.9" y="471" textLength="17.6" lengthAdjust="spacingAndGlyphs">log</text>
<text class="m" font-size="14" x="965.3" y="471">π</text><text class="m" font-size="9" x="972.8" y="473.5">θ</text>
<text class="t" font-size="14" x="978.9" y="471">(</text>
<text class="m" font-size="14" x="983.4" y="471">y</text><text class="m" font-size="9.5" x="991.2" y="473.3">b</text>
<text class="t" font-size="14" x="997.6" y="471">|</text>
<text class="m" font-size="14" x="1000.6" y="471">x</text><text class="m" font-size="9.5" x="1008.2" y="474">b</text><text class="m" font-size="10" x="1008.8" y="463.5">{i}</text>
<text class="t" font-size="14" x="1020.9" y="471">))</text>
<!-- B-END -->
</svg>
</body></html>
